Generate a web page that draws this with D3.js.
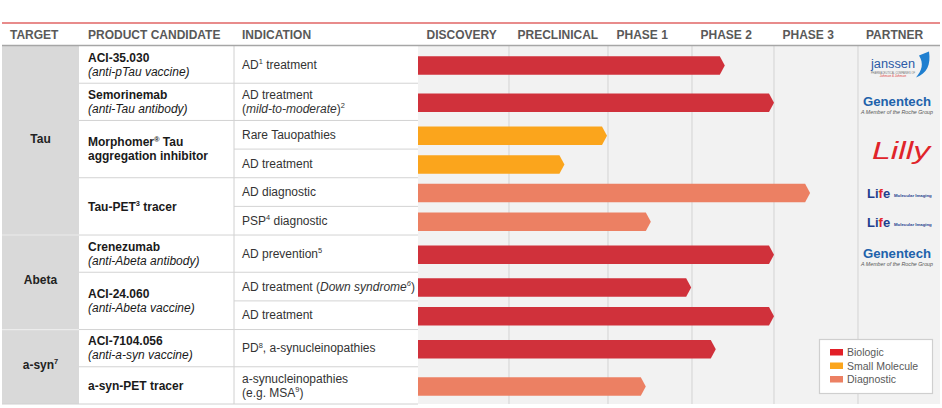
<!DOCTYPE html>
<html><head><meta charset="utf-8">
<script src="https://cdn.jsdelivr.net/npm/d3@7"></script>
<style>
body{margin:0;background:#fff}
svg{display:block}
text{font-family:"Liberation Sans",Arial,Helvetica,sans-serif}
</style>
</head><body>
<svg id="c" width="942" height="408"></svg>
<script>
// ---------------- DATA ----------------
const stages = ["DISCOVERY", "PRECLINICAL", "PHASE 1", "PHASE 2", "PHASE 3"];
const leftHeaders = ["TARGET", "PRODUCT CANDIDATE", "INDICATION"];
const partnerHeader = "PARTNER";

const targets = ["Tau", "Abeta", "a-syn^7^"];
const targetRows = [6, 3, 2];

const products = [
  "*ACI-35.030*|_(anti-pTau vaccine)_",
  "*Semorinemab*|_(anti-Tau antibody)_",
  "*Morphomer^®^ Tau*|*aggregation inhibitor*",
  "*Tau-PET^3^ tracer*",
  "*Crenezumab*|_(anti-Abeta antibody)_",
  "*ACI-24.060*|_(anti-Abeta vaccine)_",
  "*ACI-7104.056*|_(anti-a-syn vaccine)_",
  "*a-syn-PET tracer*"
];
const productRows = [1, 1, 2, 2, 1, 2, 1, 1];

const indications = [
  "AD^1^ treatment",
  "AD treatment|(_mild-to-moderate_)^2^",
  "Rare Tauopathies",
  "AD treatment",
  "AD diagnostic",
  "PSP^4^ diagnostic",
  "AD prevention^5^",
  "AD treatment (_Down syndrome^6^_)",
  "AD treatment",
  "PD^8^, a-synucleinopathies",
  "a-synucleinopathies|(e.g. MSA^9^)"
];
// progress measured in stages (0 = start of Discovery, 5 = end of Phase 3)
const progress = [3.40, 4.00, 1.99, 1.56, 4.43, 2.51, 4.00, 2.99, 4.00, 3.29, 2.45];
const modality = ["Biologic", "Biologic", "Small Molecule", "Small Molecule", "Diagnostic",
                  "Diagnostic", "Biologic", "Biologic", "Biologic", "Biologic", "Diagnostic"];

const modalities = ["Biologic", "Small Molecule", "Diagnostic"];
const modalityColors = ["#d0313b", "#fba51c", "#ec8063"];

const partners = ["Janssen", "Genentech", "Lilly", "Life", "Life", "Genentech"];
const partnerRows = [1, 1, 2, 1, 1, 1];

// ---------------- LAYOUT ----------------
const svg = d3.select("#c");
const W = 942;
const colTarget = [2, 79], colProduct = [79, 234], colInd = [234, 418], colPartner = [858, 940];
const topY = 46, botY = 404;

// row sizes: tall rows where a single-row product has 2 lines or the indication has 2 lines
const nRows = indications.length;
const productIndexByRow = [];
productRows.forEach((s, i) => { for (let k = 0; k < s; k++) productIndexByRow.push(i); });
const rowWeight = d3.range(nRows).map(r => {
  const p = productIndexByRow[r];
  const tall = (productRows[p] === 1 && products[p].includes("|")) || indications[r].includes("|");
  return tall ? 1.3 : 1;
});
const cum = [0]; rowWeight.forEach(w => cum.push(cum[cum.length - 1] + w));
const yScale = d3.scaleLinear().domain([0, cum[cum.length - 1]]).range([topY, botY]);
const rowTop = r => yScale(cum[r]);
const rowBot = r => yScale(cum[r + 1]);
const rowMid = r => (rowTop(r) + rowBot(r)) / 2;

const xScale = d3.scaleLinear().domain([0, 1, 2, 3, 4, 5]).range([418, 509, 608, 692, 774, 858]);

const colorScale = d3.scaleOrdinal().domain(modalities).range(modalityColors);

// rich text: * bold, _ italic, ^ superscript, | new line
function rich(g, str, x, cy, opts) {
  const o = Object.assign({size: 12, lh: 14, anchor: "start", fill: "#222", bold: false}, opts || {});
  const lines = str.split("|");
  lines.forEach((line, li) => {
    const y = cy + o.size * 0.35 - (lines.length - 1) * o.lh / 2 + li * o.lh;
    const t = g.append("text").attr("x", x).attr("y", y).attr("text-anchor", o.anchor)
      .attr("fill", o.fill).attr("font-size", o.size);
    let bold = o.bold, ital = false, sup = false, buf = "";
    let shifted = 0;
    const flush = () => {
      if (!buf) return;
      const ts = t.append("tspan").text(buf)
        .attr("font-weight", bold ? "bold" : "normal")
        .attr("font-style", ital ? "italic" : "normal")
        .attr("font-size", sup ? o.size * 0.62 : o.size);
      const target = sup ? -o.size * 0.38 : 0;
      if (target !== shifted) { ts.attr("dy", target - shifted); shifted = target; }
      buf = "";
    };
    for (const ch of line) {
      if (ch === "*") { flush(); bold = !bold; }
      else if (ch === "_") { flush(); ital = !ital; }
      else if (ch === "^") { flush(); sup = !sup; }
      else buf += ch;
    }
    flush();
  });
}

// ---------------- BACKGROUNDS ----------------
svg.append("rect").attr("x", xScale(0)).attr("y", topY).attr("width", colPartner[1] - xScale(0))
  .attr("height", botY - topY).attr("fill", "#f2f2f2");
svg.append("rect").attr("x", colTarget[0]).attr("y", topY).attr("width", colTarget[1] - colTarget[0])
  .attr("height", botY - topY).attr("fill", "#d9d9d9");

// vertical grid lines in stage area
svg.append("g").selectAll("line").data([1, 2, 3, 4, 5]).join("line")
  .attr("x1", d => xScale(d)).attr("x2", d => xScale(d))
  .attr("y1", topY).attr("y2", botY).attr("stroke", "#d3d3d3").attr("stroke-width", 1);

// column divider between product and indication
svg.append("line").attr("x1", colInd[0]).attr("x2", colInd[0]).attr("y1", topY).attr("y2", botY)
  .attr("stroke", "#d0d0d0");

// horizontal row lines in indication column (every row)
const hl = svg.append("g").attr("stroke", "#d3d3d3").attr("stroke-width", 1);
d3.range(1, nRows).forEach(r => {
  hl.append("line").attr("x1", colInd[0]).attr("x2", colInd[1]).attr("y1", rowTop(r)).attr("y2", rowTop(r));
});
// product group boundaries
let pr = 0;
productRows.forEach((s, i) => {
  pr += s;
  if (pr < nRows) hl.append("line").attr("x1", colProduct[0]).attr("x2", colInd[0])
    .attr("y1", rowTop(pr)).attr("y2", rowTop(pr));
});
// target group boundaries
let tr = 0;
targetRows.forEach((s, i) => {
  tr += s;
  if (tr < nRows) svg.append("line").attr("x1", colTarget[0]).attr("x2", colTarget[1])
    .attr("y1", rowTop(tr)).attr("y2", rowTop(tr)).attr("stroke", "#ececec").attr("stroke-width", 1.2);
});
// bottom line
svg.append("line").attr("x1", 2).attr("x2", colInd[1]).attr("y1", botY).attr("y2", botY)
  .attr("stroke", "#d0d0d0");

// ---------------- HEADER ----------------
svg.append("line").attr("x1", 2).attr("x2", 940).attr("y1", 23).attr("y2", 23)
  .attr("stroke", "#e06464").attr("stroke-width", 1.3);
svg.append("line").attr("x1", 2).attr("x2", 940).attr("y1", 45.5).attr("y2", 45.5)
  .attr("stroke", "#a6a6a6").attr("stroke-width", 1.5);
const hdr = svg.append("g").attr("font-size", 12).attr("font-weight", "bold").attr("fill", "#595959");
const leftHeaderX = [10, 88, 242];
leftHeaders.forEach((h, i) => hdr.append("text").attr("x", leftHeaderX[i]).attr("y", 39).text(h));
stages.forEach((s, i) => hdr.append("text").attr("x", xScale(i) + 8.5).attr("y", 39).text(s));
hdr.append("text").attr("x", colPartner[0] + 8).attr("y", 39).text(partnerHeader);

// ---------------- LEFT TABLE TEXT ----------------
const tg = svg.append("g");
let acc = 0;
targets.forEach((t, i) => {
  const cy = (rowTop(acc) + rowBot(acc + targetRows[i] - 1)) / 2;
  rich(tg, t, (colTarget[0] + colTarget[1]) / 2, cy - 2, {anchor: "middle", bold: true, fill: "#222"});
  acc += targetRows[i];
});
acc = 0;
products.forEach((p, i) => {
  const cy = (rowTop(acc) + rowBot(acc + productRows[i] - 1)) / 2;
  rich(tg, p, 88, cy, {fill: "#1a1a1a"});
  acc += productRows[i];
});
indications.forEach((t, r) => rich(tg, t, 242, rowMid(r), {fill: "#333"}));

// ---------------- BARS ----------------
const barH = 18.5, tip = 5;
svg.append("g").selectAll("path").data(progress).join("path")
  .attr("fill", (d, i) => colorScale(modality[i]))
  .attr("d", (d, i) => {
    const x0 = xScale(0), x1 = xScale(d), yc = rowMid(i) + 1;
    const y0 = yc - barH / 2, y1 = yc + barH / 2;
    return `M${x0},${y0}L${x1 - tip},${y0}L${x1},${yc}L${x1 - tip},${y1}L${x0},${y1}Z`;
  });

// ---------------- PARTNERS ----------------
const pg = svg.append("g");
const pcx = (colPartner[0] + colPartner[1]) / 2 - 1;
acc = 0;
partners.forEach((p, i) => {
  const cy = (rowTop(acc) + rowBot(acc + partnerRows[i] - 1)) / 2;
  acc += partnerRows[i];
  if (p === "Janssen") {
    pg.append("text").attr("x", 871).attr("y", cy + 3).attr("font-size", 12.5)
      .attr("fill", "#2b5aa6").attr("textLength", 44).attr("lengthAdjust", "spacingAndGlyphs").text("janssen");
    pg.append("path").attr("fill", "#1f7fd0")
      .attr("d", `M${919},${cy - 9} L${929},${cy - 13} C${931},${cy} ${927},${cy + 9} ${916},${cy + 13} C${922},${cy + 6} ${924},${cy - 1} ${919},${cy - 9}Z`);
    pg.append("text").attr("x", 893).attr("y", cy + 9).attr("font-size", 2.6).attr("text-anchor", "middle")
      .attr("fill", "#777").text("PHARMACEUTICAL COMPANIES OF");
    pg.append("text").attr("x", 893).attr("y", cy + 12.5).attr("font-size", 3).attr("text-anchor", "middle")
      .attr("fill", "#d33").attr("font-style", "italic").text("Johnson & Johnson");
  } else if (p === "Genentech") {
    pg.append("text").attr("x", 897).attr("y", cy + 4).attr("font-size", 13.2).attr("font-weight", "bold")
      .attr("text-anchor", "middle").attr("fill", "#2162ab").text("Genentech");
    pg.append("text").attr("x", 897).attr("y", cy + 12).attr("font-size", 5.3).attr("font-style", "italic")
      .attr("font-family", "Liberation Serif, serif").attr("text-anchor", "middle").attr("fill", "#555")
      .text("A Member of the Roche Group");
  } else if (p === "Lilly") {
    pg.append("text").attr("x", 872).attr("y", cy + 10).attr("font-size", 24).attr("font-style", "italic")
      .attr("font-family", "DejaVu Serif, serif").attr("fill", "#e0242a")
      .attr("textLength", 58).attr("lengthAdjust", "spacingAndGlyphs").text("Lilly");
  } else if (p === "Life") {
    const t = pg.append("text").attr("x", 867).attr("y", cy + 6).attr("font-size", 13).attr("font-weight", "bold")
      .attr("fill", "#1e3f8f");
    t.append("tspan").text("Li");
    t.append("tspan").attr("fill", "#e2262b").text("f");
    t.append("tspan").text("e");
    pg.append("text").attr("x", 894).attr("y", cy + 5).attr("font-size", 4.3).attr("font-weight", "bold")
      .attr("fill", "#1e3f8f").text("Molecular Imaging");
  }
});

// ---------------- LEGEND ----------------
const lg = svg.append("g");
lg.append("rect").attr("x", 819.5).attr("y", 339.5).attr("width", 113).attr("height", 54)
  .attr("fill", "#fff").attr("stroke", "#cfcfcf").attr("stroke-width", 1.2);
modalities.forEach((m, i) => {
  const y = 352 + i * 13.5;
  lg.append("rect").attr("x", 830).attr("y", y - 3).attr("width", 13).attr("height", 6.5)
    .attr("fill", i === 0 ? "#e21f27" : modalityColors[i]);
  lg.append("text").attr("x", 847).attr("y", y + 4).attr("font-size", 10.5).attr("fill", "#595959").text(m);
});
</script>
</body></html>
